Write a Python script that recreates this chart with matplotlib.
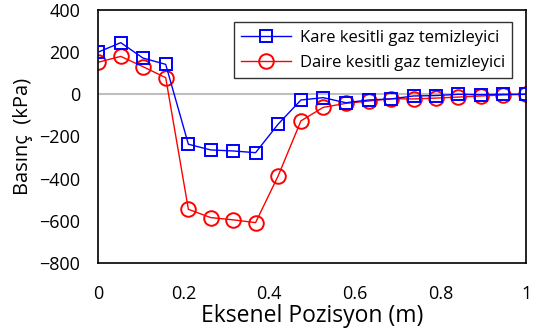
import numpy as np
import matplotlib
matplotlib.use('Agg')
import matplotlib.pyplot as plt

plt.rcParams['font.family'] = ['Open Sans', 'DejaVu Sans']

# eksenel konumlar (m) ve basınç değerleri (kPa)
pozisyon = [0.0, 0.053, 0.105, 0.158, 0.211, 0.263, 0.316, 0.368, 0.421, 0.474,
            0.526, 0.579, 0.632, 0.684, 0.737, 0.789, 0.842, 0.895, 0.947, 1.0]
kare = [200, 245, 172, 142, -237, -264, -269, -277, -141, -27,
        -16, -40, -27, -22, -8, -6, 0, -2, 0, 0]
daire = [152, 180, 131, 79, -546, -585, -596, -609, -386, -126,
         -62, -43, -32, -21, -22, -18, -13, -8, -3, 0]

fig = plt.figure(figsize=(5.33, 3.34), dpi=100)
ax = fig.add_axes([0.184, 0.213, 0.803, 0.757])

ax.axhline(0, color='#bfbfbf', linewidth=1.5, zorder=1)
ax.plot(pozisyon, kare, color='blue', linewidth=1, marker='s', markersize=8.5,
        markerfacecolor='none', markeredgewidth=1.4, label='Kare kesitli gaz temizleyici', zorder=3)
ax.plot(pozisyon, daire, color='red', linewidth=1, marker='o', markersize=10.5,
        markerfacecolor='none', markeredgewidth=1.4, label='Daire kesitli gaz temizleyici', zorder=2)

ax.set_xlim(0, 1)
ax.set_ylim(-800, 400)
ax.set_xticks([0, 0.2, 0.4, 0.6, 0.8, 1])
ax.set_xticklabels(['0', '0.2', '0.4', '0.6', '0.8', '1'])
ax.set_yticks(range(-800, 401, 200))
ax.tick_params(axis='both', length=0, labelsize=13)
ax.tick_params(axis='x', pad=16)
ax.tick_params(axis='y', pad=13)
for s in ax.spines.values():
    s.set_linewidth(1.2)
    s.set_color('black')

ax.set_xlabel('Eksenel Pozisyon (m)', fontsize=16.5, labelpad=1)
ax.set_ylabel('Basınç  (kPa)', fontsize=14.5, labelpad=4)

leg = ax.legend(loc='upper right', bbox_to_anchor=(0.987, 0.985), fontsize=12,
                frameon=True, fancybox=False, edgecolor='black', borderpad=0.45,
                handlelength=3.0, handletextpad=0.5, labelspacing=0.55)
leg.get_frame().set_linewidth(1.0)

fig.savefig('out.png', dpi=100)
